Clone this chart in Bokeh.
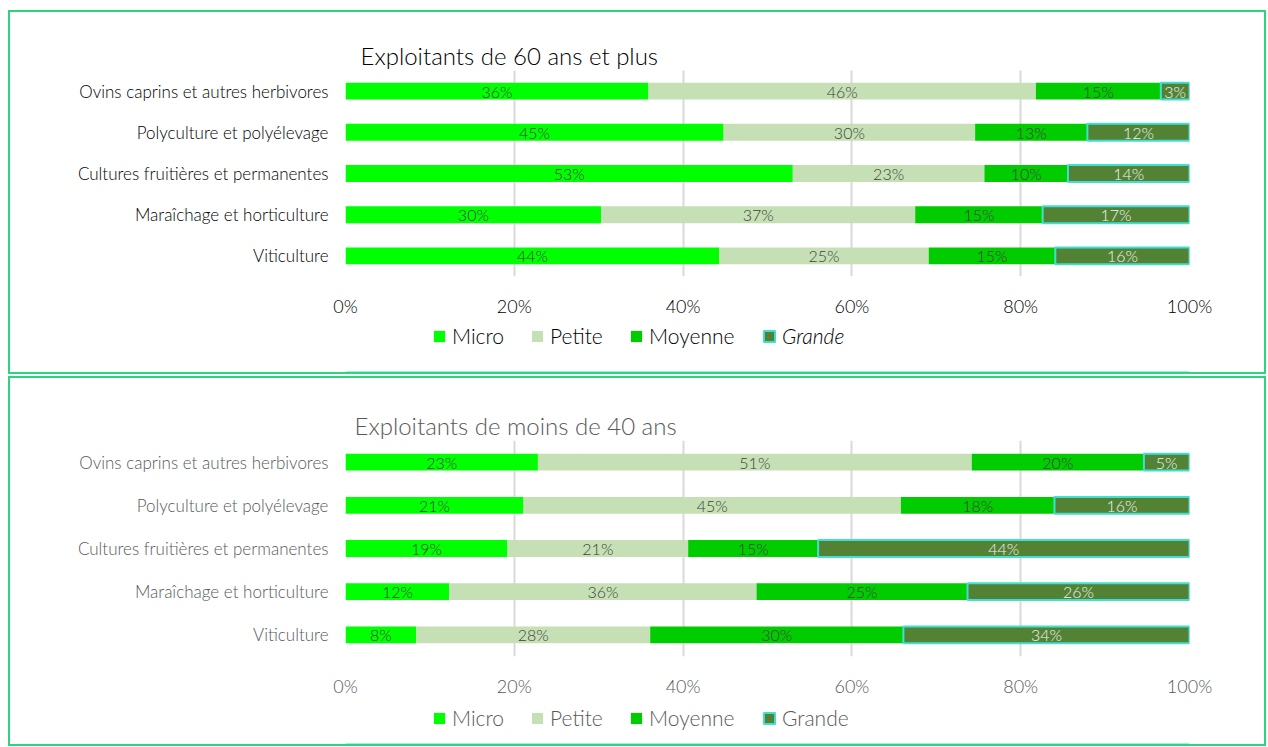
from bokeh.plotting import figure
from bokeh.layouts import column, row
from bokeh.models import Range1d, FactorRange, Legend, LegendItem, PrintfTickFormatter, FixedTicker, Spacer
from bokeh.core.properties import value
from bokeh.embed import file_html
from bokeh.resources import INLINE

categories = ["Viticulture", "Maraîchage et horticulture", "Cultures fruitières et permanentes",
              "Polyculture et polyélevage", "Ovins caprins et autres herbivores"]
series = ["Micro", "Petite", "Moyenne", "Grande"]
x_ticks = [0, 20, 40, 60, 80, 100]

# Exploitants de 60 ans et plus (same order as categories, bottom to top)
old_micro = [44.3, 30.3, 53.0, 44.8, 35.9]
old_petite = [24.8, 37.2, 22.7, 29.8, 45.9]
old_moyenne = [15.0, 15.1, 9.9, 13.3, 14.8]
old_grande = [15.9, 17.4, 14.4, 12.1, 3.4]

# Exploitants de moins de 40 ans
young_micro = [8.4, 12.3, 19.2, 21.1, 22.8]
young_petite = [27.7, 36.4, 21.4, 44.7, 51.4]
young_moyenne = [30.0, 25.0, 15.4, 18.2, 20.4]
young_grande = [33.9, 26.3, 44.0, 16.0, 5.4]

FILLS = ["#00FF00", "#C5E0B4", "#00CC00", "#548235"]
GRANDE_LINE = "#40E0D0"
LIGHT = "Lato Light, Lato"
CANVAS_W = 335 + 844 + 75


def make_chart(title, data, text_color, title_color, mb_top, frame_h, bar_h, title_offset):
    p = figure(y_range=FactorRange(factors=categories, range_padding=0),
               x_range=Range1d(0, 100),
               width=CANVAS_W, height=mb_top + frame_h + 44,
               min_border_left=335, min_border_right=75,
               min_border_top=mb_top, min_border_bottom=44,
               output_backend="svg", toolbar_location=None, title=title)
    p.outline_line_color = None
    p.background_fill_color = "white"
    p.border_fill_color = "white"

    totals = [sum(vals) for vals in zip(*data)]
    left = [0.0] * len(categories)
    for i, vals in enumerate(data):
        shares = [v / t * 100 for v, t in zip(vals, totals)]
        right = [l + s for l, s in zip(left, shares)]
        is_grande = (i == 3)
        p.hbar(y=categories, left=left, right=right, height=bar_h,
               fill_color=FILLS[i],
               line_color=GRANDE_LINE if is_grande else None,
               line_width=2 if is_grande else 0)
        centers = [(l + rr) / 2 for l, rr in zip(left, right)]
        labels = [f"{v:.0f}%" for v in vals]
        p.text(x=centers, y=categories, text=labels, text_align="center",
               text_baseline="middle", text_font=value(LIGHT), text_font_size="16px",
               text_color="#F2F2F2" if is_grande else "#404040")
        left = right

    p.title.text_font = LIGHT
    p.title.text_font_size = "24px"
    p.title.text_font_style = "normal"
    p.title.text_color = title_color
    p.title.align = "left"
    p.title.offset = title_offset
    p.title.standoff = 2

    p.ygrid.grid_line_color = None
    p.xgrid.grid_line_color = "#D9D9D9"
    p.xgrid.grid_line_width = 2

    p.xaxis.ticker = FixedTicker(ticks=x_ticks)
    p.xaxis.formatter = PrintfTickFormatter(format="%d%%")
    for ax in (p.xaxis, p.yaxis):
        ax.axis_line_color = None
        ax.major_tick_line_color = None
        ax.minor_tick_line_color = None
        ax.major_tick_out = 0
        ax.major_tick_in = 0
        ax.minor_tick_out = 0
        ax.major_label_text_font = LIGHT
        ax.major_label_text_color = text_color
    p.xaxis.major_label_text_font_size = "18px"
    p.xaxis.major_label_standoff = 18
    p.yaxis.major_label_text_font_size = "17px"
    p.yaxis.major_label_standoff = 17
    return p


def make_legend(height, vy, text_color, italic_grande):
    lf = figure(width=CANVAS_W, height=height, x_range=Range1d(0, 1), y_range=Range1d(0, 1),
                min_border=0, x_axis_location=None, y_axis_location=None,
                output_backend="svg", toolbar_location=None)
    lf.outline_line_color = None
    lf.grid.grid_line_color = None
    legend_x = [87, 185, 284, 417]
    for i, name in enumerate(series):
        is_grande = (i == 3)
        # legend proxy: one swatch placed outside the visible range
        r = lf.hbar(y=[-2], left=[0], right=[1], height=0.5, fill_color=FILLS[i],
                    line_color=GRANDE_LINE if is_grande else None,
                    line_width=2 if is_grande else 0)
        lg = Legend(items=[LegendItem(label=name, renderers=[r])],
                    location=(legend_x[i], vy), orientation="horizontal",
                    padding=0, margin=0, border_line_color=None,
                    background_fill_alpha=0, glyph_width=14, glyph_height=14,
                    label_standoff=6, label_text_font=LIGHT, label_text_font_size="21px",
                    label_text_color=text_color,
                    label_text_font_style="italic" if (is_grande and italic_grande) else "normal")
        lf.add_layout(lg)
    return lf


p1 = make_chart("Exploitants de 60 ans et plus",
                [old_micro, old_petite, old_moyenne, old_grande],
                "#000000", "#000000", 58, 206, 0.41, 15)
l1 = make_legend(52, 24, "#000000", True)
p2 = make_chart("Exploitants de moins de 40 ans",
                [young_micro, young_petite, young_moyenne, young_grande],
                "#595959", "#595959", 62, 216, 0.39, 9)
l2 = make_legend(44, 14, "#595959", False)

box_style = {"border": "2px solid #2BD47D"}
box1 = column(p1, l1, styles=box_style)
box2 = column(p2, l2, styles=box_style)
charts = column(box1, box2, spacing=2)
layout = column(Spacer(width=10, height=10), row(Spacer(width=8, height=10), charts))

open("out.html", "w").write(file_html(layout, INLINE))
